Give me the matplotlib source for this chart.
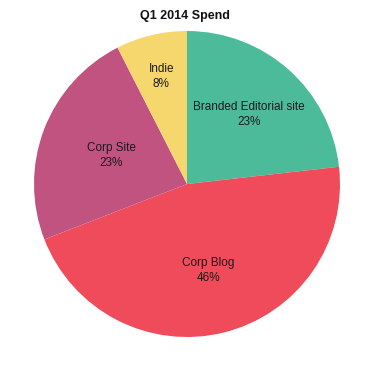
import numpy as np
import matplotlib.pyplot as plt

plt.rcParams['font.family'] = ['Liberation Sans', 'DejaVu Sans']

# data (share of spend, %)
labels = ['Branded Editorial site', 'Corp Blog', 'Corp Site', 'Indie']
values = [23.2, 45.9, 23.4, 7.5]
colors = ['#4cbb99', '#f04b5a', '#c0537f', '#f5d76e']
# how far out each label sits (fraction of the radius)
label_r = [0.61, 0.58, 0.53, 0.72]

fig = plt.figure(figsize=(3.7, 3.7), dpi=100)
ax = fig.add_axes([34/370, 33/370, 306/370, 306/370])

wedges, texts = ax.pie(values, colors=colors, startangle=90, counterclock=False,
                       radius=1, wedgeprops=dict(linewidth=0))
ax.set_xlim(-1, 1)
ax.set_ylim(-1, 1)
ax.set_aspect('equal')

for w, lab, v, r in zip(wedges, labels, values, label_r):
    ang = np.deg2rad((w.theta1 + w.theta2) / 2)
    ax.text(r*np.cos(ang), r*np.sin(ang), '%s\n%d%%' % (lab, round(v)),
            ha='center', va='center', fontsize=8.5, color='#1a1a1a', linespacing=1.35)

fig.text(0.5, 1 - 16/370, 'Q1 2014 Spend', ha='center', va='center',
         fontsize=9, fontweight='bold', color='#111111')

fig.savefig('out.png', dpi=100)
